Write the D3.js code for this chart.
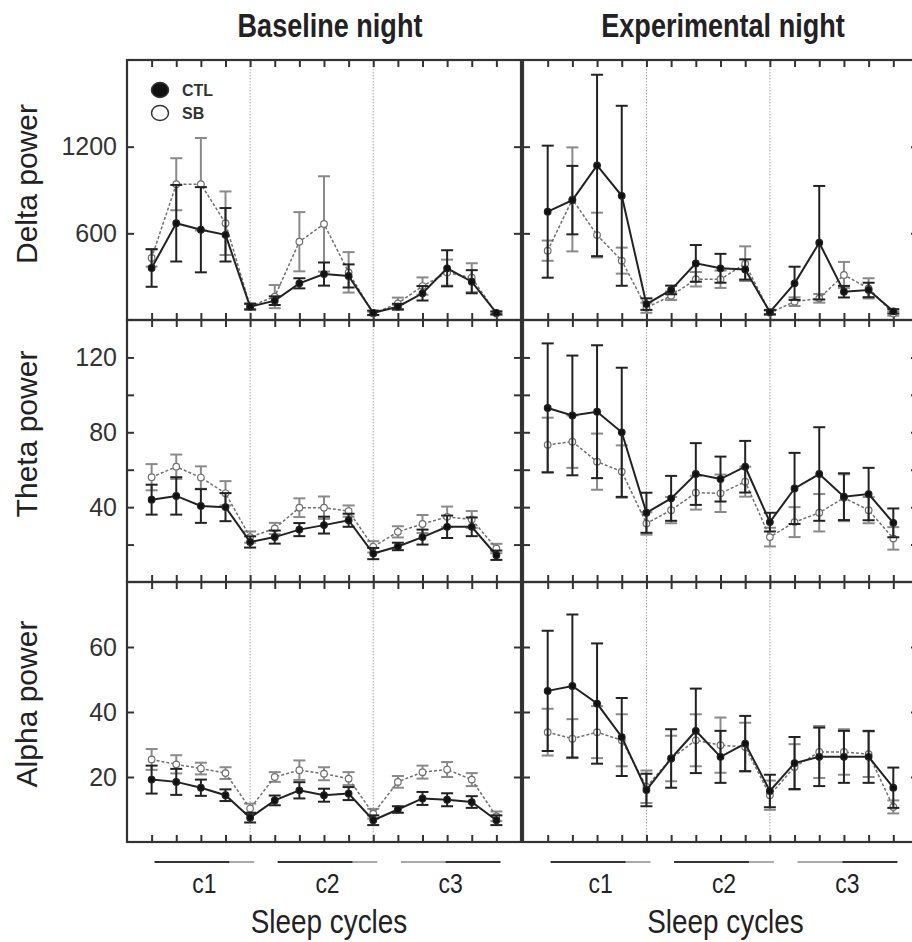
<!DOCTYPE html>
<html>
<head>
<meta charset="utf-8">
<script src="https://cdn.jsdelivr.net/npm/d3@7"></script>
<style>
  body { margin: 0; background: #fff; }
  svg { display: block; }
  .tick line { stroke: #333; stroke-width: 2; }
  .tick text { font-family: "Liberation Sans", Arial, sans-serif; font-size: 25px; fill: #333; }
  .narrow { font-family: "Liberation Sans", Arial, sans-serif; fill: #222; }
</style>
</head>
<body>
<svg width="912" height="942"></svg>
<script>
// sleep-cycle points along x (5 per cycle)
const points = d3.range(1, 16);
const cycles = ["c1", "c2", "c3"];
const nights = ["Baseline night", "Experimental night"];
const bands = ["Delta power", "Theta power", "Alpha power"];
const legendLabels = ["CTL", "SB"];

// Delta power
const deltaBaseCtl    = [360, 670, 625, 590, 92, 134, 254, 318, 305, 50, 92, 185, 358, 265, 50];
const deltaBaseCtlErr = [130, 265, 295, 185, 20, 30, 35, 80, 80, 15, 20, 50, 125, 80, 10];
const deltaBaseSb     = [430, 940, 940, 670, 95, 162, 542, 665, 330, 45, 115, 235, 328, 293, 45];
const deltaBaseSbErr  = [60, 180, 320, 220, 20, 80, 205, 330, 140, 12, 40, 60, 90, 100, 10];
const deltaExpCtl     = [750, 830, 1070, 860, 110, 208, 392, 358, 350, 55, 254, 535, 196, 208, 60];
const deltaExpCtlErr  = [457, 237, 628, 623, 40, 30, 127, 100, 70, 15, 115, 393, 40, 50, 15];
const deltaExpSb      = [480, 835, 588, 411, 85, 168, 282, 282, 390, 50, 127, 150, 312, 219, 45];
const deltaExpSbErr   = [70, 360, 155, 90, 35, 30, 50, 60, 120, 15, 30, 30, 90, 70, 15];

// Theta power
const thetaBaseCtl    = [44, 46, 40.6, 40, 21.4, 24, 28, 30.4, 33, 15.2, 19, 24, 29.5, 29.5, 14.3];
const thetaBaseCtlErr = [8, 10, 9, 7.5, 3, 3.5, 3.5, 4.5, 3.5, 3, 2, 4, 6, 5, 2.5];
const thetaBaseSb     = [56, 61.6, 55.8, 47.4, 24, 28.6, 39.7, 39.7, 37.9, 18.8, 26.8, 31, 34.8, 33.4, 17.9];
const thetaBaseSbErr  = [7, 6.5, 6, 6.5, 3, 3, 5, 6, 3, 3, 3, 4.8, 5.5, 4.5, 2.5];
const thetaExpCtl     = [93, 89, 91, 80, 37, 44.7, 57.7, 55, 61.6, 32, 50, 57.7, 45.6, 47, 31.6];
const thetaExpCtlErr  = [34.5, 32, 35.5, 34.5, 10.7, 12, 16.5, 12, 13.8, 5, 19, 25, 12.5, 14, 7.7];
const thetaExpSb      = [73.3, 75, 64.3, 59, 31.3, 38.4, 47.7, 47.4, 53.6, 24, 32, 37, 45, 38.4, 23.3];
const thetaExpSbErr   = [14.5, 14, 15, 14, 6, 7, 9, 10, 8, 5, 8, 10, 12.5, 7, 6];

// Alpha power
const alphaBaseCtl    = [19.2, 18.5, 16.7, 14.4, 7.5, 12.8, 15.9, 14.4, 14.9, 6.7, 10, 13.4, 13, 12.3, 6.7];
const alphaBaseCtlErr = [4.3, 4, 2.5, 1.8, 1.5, 1.5, 2.5, 2, 2, 1.5, 1, 2, 2, 1.8, 1.5];
const alphaBaseSb     = [25.4, 23.9, 22.6, 21.2, 10.3, 20, 22.1, 21, 19.5, 8.7, 18.5, 21.5, 22.3, 19.2, 7.9];
const alphaBaseSbErr  = [3.2, 2.8, 1.8, 1.8, 1.5, 1.5, 3, 2, 2, 1.5, 1.8, 2, 2.3, 2, 1.5];
const alphaExpCtl     = [46.5, 48, 42.6, 32.3, 16, 25.7, 34.2, 26.2, 30.3, 15.7, 24.3, 26.2, 26.2, 26.2, 16.7];
const alphaExpCtlErr  = [18.5, 22, 18.5, 12, 5, 9, 13, 8, 8.5, 5, 8, 9, 8, 8, 6.2];
const alphaExpSb      = [33.8, 31.8, 33.8, 31.3, 17, 25.7, 31.3, 29.8, 29.2, 14.4, 23.1, 27.7, 27.7, 27, 10.8];
const alphaExpSbErr   = [7.2, 6, 8, 8, 5, 7, 8, 8.5, 7.5, 4.5, 7, 8, 7, 7, 2];

// y axes
const yMax = [1800, 140, 80];
const yTicks = [[600, 1200], [20, 40, 60, 80, 100, 120], [20, 40, 60]];
const yLabels = [[600, 1200], [40, 80, 120], [20, 40, 60]];

const panels = [
  [[deltaBaseCtl, deltaBaseCtlErr, deltaBaseSb, deltaBaseSbErr], [deltaExpCtl, deltaExpCtlErr, deltaExpSb, deltaExpSbErr]],
  [[thetaBaseCtl, thetaBaseCtlErr, thetaBaseSb, thetaBaseSbErr], [thetaExpCtl, thetaExpCtlErr, thetaExpSb, thetaExpSbErr]],
  [[alphaBaseCtl, alphaBaseCtlErr, alphaBaseSb, alphaBaseSbErr], [alphaExpCtl, alphaExpCtlErr, alphaExpSb, alphaExpSbErr]]
];

const svg = d3.select("svg");
const cols = [[127, 521], [523, 918]];
const rows = [[60, 320], [320, 582], [582, 842]];
const tickLen = 7;
const capW = 6;

const xs = cols.map(c => d3.scaleLinear().domain([0, 16]).range(c));

// condensed text: plain sans squeezed horizontally
function narrowText(x, y, size, txt, bold) {
  return svg.append("text")
    .attr("class", "narrow")
    .attr("transform", `translate(${x},${y}) scale(0.82,1)`)
    .attr("text-anchor", "middle")
    .style("font-size", size + "px")
    .style("font-weight", bold ? "bold" : "normal")
    .text(txt);
}

rows.forEach((r, ri) => {
  const y = d3.scaleLinear().domain([0, yMax[ri]]).range([r[1], r[0]]);
  cols.forEach((c, ci) => {
    const x = xs[ci];
    const g = svg.append("g");
    const [ctl, ctlErr, sb, sbErr] = panels[ri][ci];

    // cycle separators
    g.selectAll(".sep")
      .data([5, 10])
      .enter().append("line")
      .attr("x1", d => x(d)).attr("x2", d => x(d))
      .attr("y1", r[0]).attr("y2", r[1])
      .attr("stroke", "#a8a8a8")
      .attr("stroke-width", 1)
      .attr("stroke-dasharray", "1.5,1.5");

    // axes, ticks pointing inward
    const left = d3.axisLeft(y).tickValues(yTicks[ri]).tickSize(-tickLen).tickPadding(10)
      .tickFormat(d => (ci === 0 && yLabels[ri].includes(d)) ? d : "");
    const right = d3.axisRight(y).tickValues(yTicks[ri]).tickSize(-tickLen).tickFormat("");
    const top = d3.axisTop(x).tickValues(points).tickSize(-tickLen).tickFormat("");
    const bottom = d3.axisBottom(x).tickValues(points).tickSize(-tickLen).tickFormat("");

    g.append("g").attr("transform", `translate(${c[0]},0)`).call(left);
    g.append("g").attr("transform", `translate(${c[1]},0)`).call(right);
    g.append("g").attr("transform", `translate(0,${r[0]})`).call(top);
    g.append("g").attr("transform", `translate(0,${r[1]})`).call(bottom);
    g.selectAll(".domain").remove();

    g.append("rect")
      .attr("x", c[0]).attr("y", r[0])
      .attr("width", c[1] - c[0]).attr("height", r[1] - r[0])
      .attr("fill", "none")
      .attr("stroke", "#333")
      .attr("stroke-width", 2.2);

    const series = [
      { mean: sb, err: sbErr, line: "#707070", bar: "#8a8a8a", width: 1.5, dash: "3,2", fill: "#fff" },
      { mean: ctl, err: ctlErr, line: "#222", bar: "#222", width: 2, dash: null, fill: "#111" }
    ];

    series.forEach(s => {
      const data = points.map((p, i) => ({ p, v: s.mean[i], e: s.err[i] }));
      const sg = g.append("g");

      const bars = sg.selectAll(".err").data(data).enter().append("g");
      bars.append("line")
        .attr("x1", d => x(d.p)).attr("x2", d => x(d.p))
        .attr("y1", d => y(d.v - d.e)).attr("y2", d => y(d.v + d.e));
      bars.append("line")
        .attr("x1", d => x(d.p) - capW).attr("x2", d => x(d.p) + capW)
        .attr("y1", d => y(d.v + d.e)).attr("y2", d => y(d.v + d.e));
      bars.append("line")
        .attr("x1", d => x(d.p) - capW).attr("x2", d => x(d.p) + capW)
        .attr("y1", d => y(d.v - d.e)).attr("y2", d => y(d.v - d.e));
      bars.selectAll("line").attr("stroke", s.bar).attr("stroke-width", 2);

      sg.append("path")
        .datum(data)
        .attr("fill", "none")
        .attr("stroke", s.line)
        .attr("stroke-width", s.width)
        .attr("stroke-dasharray", s.dash)
        .attr("d", d3.line().x(d => x(d.p)).y(d => y(d.v)));

      sg.selectAll(".pt").data(data).enter().append("circle")
        .attr("cx", d => x(d.p)).attr("cy", d => y(d.v))
        .attr("r", 3.3)
        .attr("fill", s.fill)
        .attr("stroke", s.line)
        .attr("stroke-width", 1.2);
    });
  });

  // row title
  const yc = [184, 434, 704][ri];
  svg.append("text")
    .attr("transform", `translate(37,${yc}) rotate(-90)`)
    .attr("text-anchor", "middle")
    .style("font-family", "'Liberation Sans', Arial, sans-serif")
    .style("font-size", "30px")
    .attr("fill", "#222")
    .text(bands[ri]);
});

// column titles and cycle labels
xs.forEach((x, ci) => {
  narrowText([330, 723][ci], 37, 33, nights[ci], true);
  narrowText((x(1) + x(15)) / 2 + 5, 933, 34, "Sleep cycles", false);

  cycles.forEach((cy, k) => {
    const x0 = x(5 * k + 1) + 3;
    const x1 = x(5 * k + 5) + 4;
    const split = k < 2 ? x0 + (x1 - x0) * 0.75 : x0 + (x1 - x0) * 0.45;
    svg.append("line")
      .attr("x1", x0).attr("x2", x1).attr("y1", 862).attr("y2", 862)
      .attr("stroke", "#aaa").attr("stroke-width", 2);
    svg.append("line")
      .attr("x1", k < 2 ? x0 : split).attr("x2", k < 2 ? split : x1)
      .attr("y1", 862).attr("y2", 862)
      .attr("stroke", "#333").attr("stroke-width", 2);
    narrowText((x0 + x1) / 2, 893, 28, cy, false);
  });
});

// legend
const legend = svg.append("g");
legendLabels.forEach((lab, i) => {
  legend.append("ellipse")
    .attr("cx", 160).attr("cy", 90 + i * 23)
    .attr("rx", 8.5).attr("ry", 7.5)
    .attr("fill", i === 0 ? "#111" : "#fff")
    .attr("stroke", "#333").attr("stroke-width", 1.5);
  legend.append("text")
    .attr("x", 182).attr("y", 96 + i * 23)
    .style("font-family", "'Liberation Sans', Arial, sans-serif")
    .style("font-size", "16px")
    .style("font-weight", "bold")
    .attr("fill", "#333")
    .text(lab);
});
</script>
</body>
</html>
